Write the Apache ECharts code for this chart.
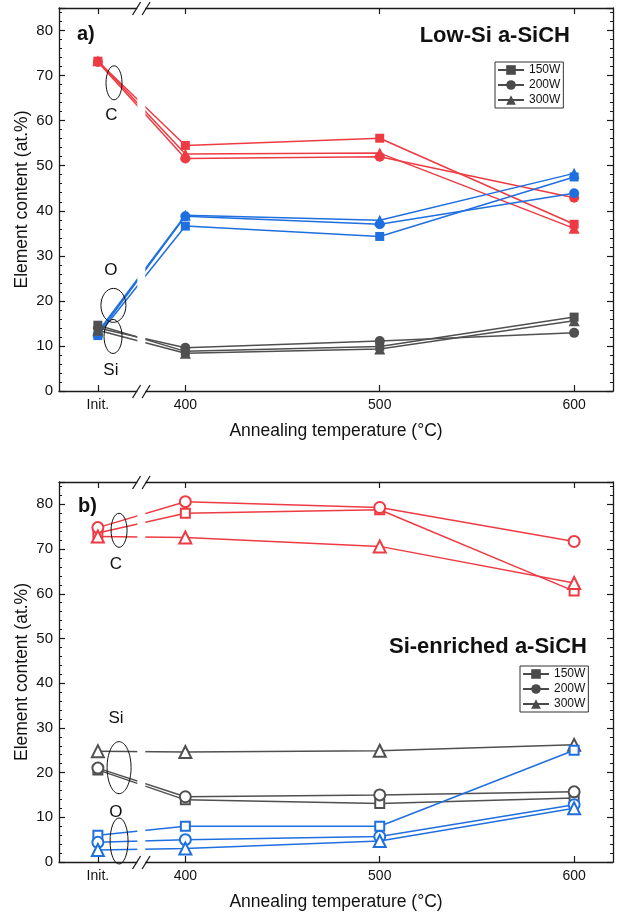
<!DOCTYPE html>
<html>
<head>
<meta charset="utf-8">
<script src="https://cdn.jsdelivr.net/npm/echarts@6/dist/echarts.min.js"></script>
<style>
  html, body { margin: 0; padding: 0; background: #fff; }
  #chart { width: 617px; height: 915px; }
</style>
</head>
<body>
<div id="chart"></div>
<script>
// ---- data -------------------------------------------------------------
// x position used for the as-deposited ("Init.") samples, left of the axis break
const INIT_X = 355;
const temperatures = [400, 500, 600];
const xTickLabels = ['Init.', '400', '500', '600'];
const powers = ['150W', '200W', '300W'];
const yTickValues = [0, 10, 20, 30, 40, 50, 60, 70, 80];

// Low-Si a-SiCH, element content (at.%) at Init., 400, 500, 600 °C
const lowSi_C_150  = [73.2, 54.5, 56.1, 37.0];
const lowSi_C_200  = [73.0, 51.6, 52.0, 42.9];
const lowSi_C_300  = [73.3, 52.6, 52.8, 36.1];
const lowSi_O_150  = [12.3, 36.6, 34.3, 47.5];
const lowSi_O_200  = [12.6, 38.8, 37.0, 43.9];
const lowSi_O_300  = [13.1, 39.0, 37.9, 48.3];
const lowSi_Si_150 = [14.6, 8.8, 9.9, 16.4];
const lowSi_Si_200 = [14.0, 9.6, 11.1, 12.9];
const lowSi_Si_300 = [13.5, 8.4, 9.3, 15.6];

// Si-enriched a-SiCH, element content (at.%) at Init., 400, 500, 600 °C
const siRich_C_150  = [73.6, 78.0, 78.8, 60.6];
const siRich_C_200  = [74.8, 80.6, 79.3, 71.7];
const siRich_C_300  = [72.8, 72.6, 70.6, 62.4];
const siRich_Si_150 = [20.6, 13.9, 13.1, 14.3];
const siRich_Si_200 = [21.0, 14.6, 15.0, 15.7];
const siRich_Si_300 = [24.8, 24.6, 24.9, 26.2];
const siRich_O_150  = [6.0, 8.0, 8.0, 25.0];
const siRich_O_200  = [4.4, 5.0, 5.7, 12.8];
const siRich_O_300  = [2.7, 3.0, 4.7, 12.0];

// ---- styling ----------------------------------------------------------
const FONT = "'Liberation Sans', Arial, Helvetica, sans-serif";
const RED = '#EE3B43';
const BLUE = '#1F6FDF';
const GRAY = '#505050';
const AXIS = '#1a1a1a';
const xPositions = [INIT_X].concat(temperatures);
const filledSymbols = ['rect', 'circle', 'triangle'];
const emptySymbols = ['emptyRect', 'emptyCircle', 'emptyTriangle'];
const filledSizes = [9, 10, 11];
const emptySizes = [9, 11, 12];

// axis break between the initial samples and 400 °C
const breakGap = [375.3, 379.4];
const breakMarks = [374.9, 379.8];

function toPoints(values) {
  return values.map((v, i) => [xPositions[i], v]);
}

function lineSeries(name, values, color, pIdx, hollow, axisIdx) {
  return {
    type: 'line',
    name: name,
    xAxisIndex: axisIdx * 2,
    yAxisIndex: axisIdx * 4,
    data: toPoints(values),
    symbol: hollow ? emptySymbols[pIdx] : filledSymbols[pIdx],
    symbolSize: hollow ? emptySizes[pIdx] : filledSizes[pIdx],
    showSymbol: true,
    lineStyle: { color: color, width: 1.5 },
    itemStyle: hollow
      ? { color: color, borderColor: color, borderWidth: 1.6 }
      : { color: color, borderWidth: 0 },
    emphasis: { disabled: true },
    silent: true,
    z: 3
  };
}

function xAxes(gridIndex, withName) {
  const common = {
    type: 'value', gridIndex: gridIndex, min: 335, max: 620,
    splitLine: { show: false },
    axisLine: { show: true, onZero: false, lineStyle: { color: AXIS, width: 1.3 } },
    axisTick: { show: true, inside: true, length: 6, customValues: xPositions,
                lineStyle: { color: AXIS, width: 1.2 } }
  };
  return [
    Object.assign({}, common, {
      position: 'bottom',
      axisLabel: { show: true, customValues: xPositions, margin: 7,
        fontFamily: FONT, fontSize: 14, color: '#111',
        formatter: v => xTickLabels[xPositions.indexOf(v)] },
      name: withName ? 'Annealing temperature (°C)' : '',
      nameLocation: 'middle', nameGap: 31, nameMoveOverlap: false,
      nameTextStyle: { fontFamily: FONT, fontSize: 17.5, color: '#111' }
    }),
    Object.assign({}, common, { position: 'top', axisLabel: { show: false } })
  ];
}

function yAxes(gridIndex) {
  const base = {
    type: 'value', gridIndex: gridIndex, min: 0, max: 85,
    splitLine: { show: false }
  };
  const major = Object.assign({}, base, {
    interval: 10,
    axisLine: { show: true, lineStyle: { color: AXIS, width: 1.3 } },
    axisTick: { show: true, inside: true, length: 6, lineStyle: { color: AXIS, width: 1.2 } }
  });
  const minor = Object.assign({}, base, {
    interval: 2,
    axisLine: { show: false },
    axisLabel: { show: false },
    axisTick: { show: true, inside: true, length: 3, lineStyle: { color: AXIS, width: 1 } }
  });
  return [
    Object.assign({}, major, {
      position: 'left',
      axisLabel: { show: true, margin: 6, fontFamily: FONT, fontSize: 15, color: '#111',
        formatter: v => (yTickValues.indexOf(v) >= 0 ? String(v) : '') },
      name: 'Element content (at.%)', nameLocation: 'middle', nameGap: 28, nameMoveOverlap: false,
      nameTextStyle: { fontFamily: FONT, fontSize: 17.5, color: '#111' }
    }),
    Object.assign({}, minor, { position: 'left' }),
    Object.assign({}, major, { position: 'right', axisLabel: { show: false } }),
    Object.assign({}, minor, { position: 'right' })
  ];
}

// white gap plus the "//" marks on both horizontal axes
function breakSeries(axisIdx) {
  return [
    {
      type: 'custom', xAxisIndex: axisIdx * 2, yAxisIndex: axisIdx * 4,
      silent: true, z: 10, clip: false,
      data: [[breakGap[0], 0, breakGap[1]]],
      renderItem: function (params, api) {
        const p0 = api.coord([api.value(0), 85]);
        const p1 = api.coord([api.value(2), 0]);
        return { type: 'rect',
          shape: { x: p0[0], y: p0[1] - 3, width: p1[0] - p0[0], height: p1[1] - p0[1] + 6 },
          style: { fill: '#fff' } };
      }
    },
    {
      type: 'custom', xAxisIndex: axisIdx * 2, yAxisIndex: axisIdx * 4,
      silent: true, z: 11, clip: false,
      data: breakMarks.map(x => [x, 0]),
      renderItem: function (params, api) {
        const x = api.value(0);
        const children = [0, 85].map(yv => {
          const p = api.coord([x, yv]);
          return { type: 'line',
            shape: { x1: p[0] - 4, y1: p[1] + 7, x2: p[0] + 4, y2: p[1] - 6 },
            style: { stroke: AXIS, lineWidth: 1.3 } };
        });
        return { type: 'group', children: children };
      }
    }
  ];
}

// element labels with the ellipses grouping the initial-sample lines
function noteSeries(axisIdx, notes) {
  return {
    type: 'custom', xAxisIndex: axisIdx * 2, yAxisIndex: axisIdx * 4,
    silent: true, z: 12, clip: false,
    data: notes.map(n => [n.ex, n.ey]),
    renderItem: function (params, api) {
      const n = notes[params.dataIndex];
      const c = api.coord([n.ex, n.ey]);
      const t = api.coord([n.tx, n.ty]);
      return { type: 'group', children: [
        { type: 'ellipse', shape: { cx: c[0], cy: c[1], rx: n.rx, ry: n.ry },
          style: { fill: 'none', stroke: '#111', lineWidth: 1 } },
        { type: 'text', x: t[0], y: t[1],
          style: { text: n.label, fontFamily: FONT, fontSize: 17, fill: '#111',
                   align: 'center', verticalAlign: 'middle' } }
      ] };
    }
  };
}

const lowSiNotes = [
  { label: 'C',  ex: 363.3, ey: 68.4, rx: 8,    ry: 17, tx: 362.0, ty: 61.1 },
  { label: 'O',  ex: 363.0, ey: 19.0, rx: 12.5, ry: 17, tx: 361.7, ty: 26.7 },
  { label: 'Si', ex: 362.8, ey: 12.1, rx: 9,    ry: 17, tx: 361.7, ty: 4.6 }
];
const siRichNotes = [
  { label: 'C',  ex: 365.9, ey: 74.2, rx: 8,  ry: 17, tx: 364.3, ty: 66.6 },
  { label: 'Si', ex: 365.9, ey: 21.1, rx: 12, ry: 26, tx: 364.3, ty: 32.2 },
  { label: 'O',  ex: 365.9, ey: 4.7,  rx: 9,  ry: 23, tx: 364.3, ty: 11.2 }
];

const series = [];
[[lowSi_C_150, lowSi_C_200, lowSi_C_300, RED, 'C'],
 [lowSi_O_150, lowSi_O_200, lowSi_O_300, BLUE, 'O'],
 [lowSi_Si_150, lowSi_Si_200, lowSi_Si_300, GRAY, 'Si']].forEach(g => {
  for (let p = 0; p < 3; p++) series.push(lineSeries('a ' + g[4] + ' ' + powers[p], g[p], g[3], p, false, 0));
});
[[siRich_C_150, siRich_C_200, siRich_C_300, RED, 'C'],
 [siRich_Si_150, siRich_Si_200, siRich_Si_300, GRAY, 'Si'],
 [siRich_O_150, siRich_O_200, siRich_O_300, BLUE, 'O']].forEach(g => {
  for (let p = 0; p < 3; p++) series.push(lineSeries('b ' + g[4] + ' ' + powers[p], g[p], g[3], p, true, 1));
});
// legend keys: deposition power, shown in neutral grey
powers.forEach((p, i) => series.push({
  type: 'line', name: p, xAxisIndex: 0, yAxisIndex: 0, data: [],
  symbol: filledSymbols[i], lineStyle: { color: '#4a4a4a', width: 1.4 },
  itemStyle: { color: '#4a4a4a' }
}));
series.push(...breakSeries(0), ...breakSeries(1));
series.push(noteSeries(0, lowSiNotes), noteSeries(1, siRichNotes));

function legendAt(left, top) {
  return {
    data: powers, orient: 'vertical', left: left, top: top,
    itemWidth: 26, itemHeight: 12, itemGap: 3, padding: [2, 3, 2, 2],
    borderColor: '#333', borderWidth: 1, selectedMode: false,
    textStyle: { fontFamily: FONT, fontSize: 12, color: '#111', lineHeight: 12 }
  };
}

const option = {
  animation: false,
  backgroundColor: '#fff',
  grid: [
    { left: 59, top: 8, width: 554, height: 383 },
    { left: 59, top: 482, width: 554, height: 380 }
  ],
  xAxis: xAxes(0, true).concat(xAxes(1, true)),
  yAxis: yAxes(0).concat(yAxes(1)),
  legend: [legendAt(495, 62), legendAt(520, 666)],
  graphic: [
    { type: 'text', x: 77, y: 34, style: { text: 'a)', fontFamily: FONT, fontSize: 20,
      fontWeight: 'bold', fill: '#111', verticalAlign: 'middle' } },
    { type: 'text', x: 570, y: 36, style: { text: 'Low-Si a-SiCH', fontFamily: FONT, fontSize: 22,
      fontWeight: 'bold', fill: '#111', align: 'right', verticalAlign: 'middle' } },
    { type: 'text', x: 78, y: 506, style: { text: 'b)', fontFamily: FONT, fontSize: 20,
      fontWeight: 'bold', fill: '#111', verticalAlign: 'middle' } },
    { type: 'text', x: 587, y: 647, style: { text: 'Si-enriched a-SiCH', fontFamily: FONT, fontSize: 22,
      fontWeight: 'bold', fill: '#111', align: 'right', verticalAlign: 'middle' } }
  ],
  series: series
};

const chart = echarts.init(document.getElementById('chart'), null, { renderer: 'canvas' });
chart.setOption(option);
</script>
</body>
</html>
